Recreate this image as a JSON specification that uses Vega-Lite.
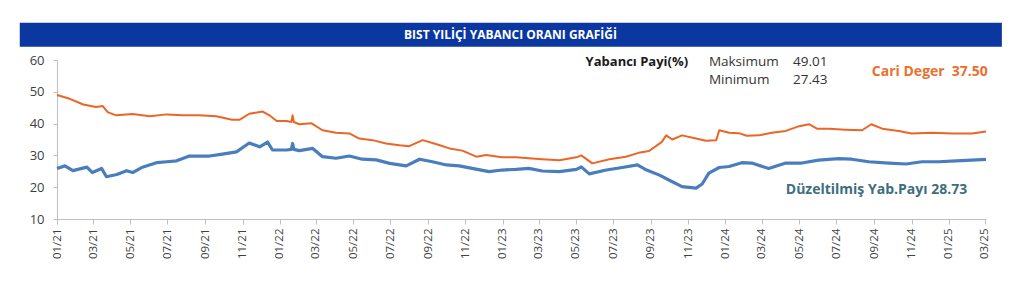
{
  "$schema": "https://vega.github.io/schema/vega-lite/v6.json",
  "autosize": {"type": "none"},
  "width": 929,
  "height": 159,
  "padding": {"left": 57, "top": 60, "right": 38, "bottom": 80},
  "background": "white",
  "config": {
    "font": "Open Sans",
    "view": {"stroke": null},
    "axis": {"labelOverlap": false, "labelFlush": false, "grid": false, "title": null, "domainColor": "#BFBFBF", "tickColor": "#BFBFBF", "labelColor": "#404040"},
    "axisY": {"labelFontSize": 13, "labelPadding": 9, "tickSize": 4, "labelOverlap": false, "labelBound": false},
    "axisX": {"labelFontSize": 11.5, "labelPadding": 4, "tickSize": 5, "labelAngle": -90, "labelOverlap": false}
  },
  "datasets": {"series": [
    {"date": "2021-01-01", "series": "Yabancı", "value": 49.0},
    {"date": "2021-01-22", "series": "Yabancı", "value": 47.8},
    {"date": "2021-02-13", "series": "Yabancı", "value": 46.0},
    {"date": "2021-03-06", "series": "Yabancı", "value": 45.2},
    {"date": "2021-03-17", "series": "Yabancı", "value": 45.5},
    {"date": "2021-03-25", "series": "Yabancı", "value": 43.6},
    {"date": "2021-04-08", "series": "Yabancı", "value": 42.6},
    {"date": "2021-05-05", "series": "Yabancı", "value": 43.0},
    {"date": "2021-06-02", "series": "Yabancı", "value": 42.3},
    {"date": "2021-06-30", "series": "Yabancı", "value": 42.9},
    {"date": "2021-07-26", "series": "Yabancı", "value": 42.6},
    {"date": "2021-08-22", "series": "Yabancı", "value": 42.6},
    {"date": "2021-09-19", "series": "Yabancı", "value": 42.3},
    {"date": "2021-10-15", "series": "Yabancı", "value": 41.2},
    {"date": "2021-10-27", "series": "Yabancı", "value": 41.2},
    {"date": "2021-11-12", "series": "Yabancı", "value": 43.1},
    {"date": "2021-12-04", "series": "Yabancı", "value": 43.8},
    {"date": "2021-12-15", "series": "Yabancı", "value": 42.6},
    {"date": "2021-12-27", "series": "Yabancı", "value": 40.8},
    {"date": "2022-01-12", "series": "Yabancı", "value": 40.8},
    {"date": "2022-01-20", "series": "Yabancı", "value": 40.5},
    {"date": "2022-01-22", "series": "Yabancı", "value": 42.6},
    {"date": "2022-01-24", "series": "Yabancı", "value": 40.5},
    {"date": "2022-02-02", "series": "Yabancı", "value": 39.8},
    {"date": "2022-02-22", "series": "Yabancı", "value": 40.1},
    {"date": "2022-03-12", "series": "Yabancı", "value": 37.9},
    {"date": "2022-04-03", "series": "Yabancı", "value": 37.1},
    {"date": "2022-04-25", "series": "Yabancı", "value": 36.9},
    {"date": "2022-05-11", "series": "Yabancı", "value": 35.3},
    {"date": "2022-06-02", "series": "Yabancı", "value": 34.8},
    {"date": "2022-06-24", "series": "Yabancı", "value": 33.75},
    {"date": "2022-07-16", "series": "Yabancı", "value": 33.2},
    {"date": "2022-08-01", "series": "Yabancı", "value": 32.9},
    {"date": "2022-08-23", "series": "Yabancı", "value": 34.8},
    {"date": "2022-09-15", "series": "Yabancı", "value": 33.5},
    {"date": "2022-10-06", "series": "Yabancı", "value": 32.2},
    {"date": "2022-10-27", "series": "Yabancı", "value": 31.5},
    {"date": "2022-11-19", "series": "Yabancı", "value": 29.6},
    {"date": "2022-12-05", "series": "Yabancı", "value": 30.1},
    {"date": "2022-12-31", "series": "Yabancı", "value": 29.4},
    {"date": "2023-01-23", "series": "Yabancı", "value": 29.4},
    {"date": "2023-02-13", "series": "Yabancı", "value": 29.1},
    {"date": "2023-03-07", "series": "Yabancı", "value": 28.8},
    {"date": "2023-04-04", "series": "Yabancı", "value": 28.5},
    {"date": "2023-05-02", "series": "Yabancı", "value": 29.4},
    {"date": "2023-05-10", "series": "Yabancı", "value": 30.0},
    {"date": "2023-05-28", "series": "Yabancı", "value": 27.5},
    {"date": "2023-06-25", "series": "Yabancı", "value": 28.8},
    {"date": "2023-07-22", "series": "Yabancı", "value": 29.6},
    {"date": "2023-08-12", "series": "Yabancı", "value": 30.8},
    {"date": "2023-08-29", "series": "Yabancı", "value": 31.4},
    {"date": "2023-09-19", "series": "Yabancı", "value": 34.25},
    {"date": "2023-09-26", "series": "Yabancı", "value": 36.3},
    {"date": "2023-10-06", "series": "Yabancı", "value": 35.0},
    {"date": "2023-10-22", "series": "Yabancı", "value": 36.3},
    {"date": "2023-11-14", "series": "Yabancı", "value": 35.3},
    {"date": "2023-11-30", "series": "Yabancı", "value": 34.6},
    {"date": "2023-12-17", "series": "Yabancı", "value": 34.8},
    {"date": "2023-12-22", "series": "Yabancı", "value": 37.9},
    {"date": "2024-01-07", "series": "Yabancı", "value": 37.1},
    {"date": "2024-01-23", "series": "Yabancı", "value": 37.0},
    {"date": "2024-02-05", "series": "Yabancı", "value": 36.2},
    {"date": "2024-02-25", "series": "Yabancı", "value": 36.3},
    {"date": "2024-03-17", "series": "Yabancı", "value": 37.1},
    {"date": "2024-04-09", "series": "Yabancı", "value": 37.7},
    {"date": "2024-05-01", "series": "Yabancı", "value": 39.2},
    {"date": "2024-05-17", "series": "Yabancı", "value": 39.8},
    {"date": "2024-05-30", "series": "Yabancı", "value": 38.4},
    {"date": "2024-06-19", "series": "Yabancı", "value": 38.4},
    {"date": "2024-07-16", "series": "Yabancı", "value": 38.1},
    {"date": "2024-08-12", "series": "Yabancı", "value": 37.9},
    {"date": "2024-08-27", "series": "Yabancı", "value": 39.8},
    {"date": "2024-09-14", "series": "Yabancı", "value": 38.4},
    {"date": "2024-10-11", "series": "Yabancı", "value": 37.7},
    {"date": "2024-11-01", "series": "Yabancı", "value": 36.9},
    {"date": "2024-12-04", "series": "Yabancı", "value": 37.1},
    {"date": "2025-01-07", "series": "Yabancı", "value": 36.9},
    {"date": "2025-02-08", "series": "Yabancı", "value": 36.9},
    {"date": "2025-03-03", "series": "Yabancı", "value": 37.5},
    {"date": "2021-01-01", "series": "Düzeltilmiş", "value": 25.9},
    {"date": "2021-01-14", "series": "Düzeltilmiş", "value": 26.7},
    {"date": "2021-01-27", "series": "Düzeltilmiş", "value": 25.2},
    {"date": "2021-02-19", "series": "Düzeltilmiş", "value": 26.3},
    {"date": "2021-02-28", "series": "Düzeltilmiş", "value": 24.6},
    {"date": "2021-03-15", "series": "Düzeltilmiş", "value": 25.9},
    {"date": "2021-03-23", "series": "Düzeltilmiş", "value": 23.3},
    {"date": "2021-04-09", "series": "Düzeltilmiş", "value": 24.0},
    {"date": "2021-04-25", "series": "Düzeltilmiş", "value": 25.2},
    {"date": "2021-05-05", "series": "Düzeltilmiş", "value": 24.6},
    {"date": "2021-05-21", "series": "Düzeltilmiş", "value": 26.3},
    {"date": "2021-06-13", "series": "Düzeltilmiş", "value": 27.7},
    {"date": "2021-06-30", "series": "Düzeltilmiş", "value": 28.0},
    {"date": "2021-07-16", "series": "Düzeltilmiş", "value": 28.3},
    {"date": "2021-08-06", "series": "Düzeltilmiş", "value": 29.8},
    {"date": "2021-08-22", "series": "Düzeltilmiş", "value": 29.8},
    {"date": "2021-09-08", "series": "Düzeltilmiş", "value": 29.8},
    {"date": "2021-09-29", "series": "Düzeltilmiş", "value": 30.4},
    {"date": "2021-10-22", "series": "Düzeltilmiş", "value": 31.1},
    {"date": "2021-11-12", "series": "Düzeltilmiş", "value": 33.9},
    {"date": "2021-11-29", "series": "Düzeltilmiş", "value": 32.7},
    {"date": "2021-12-12", "series": "Düzeltilmiş", "value": 34.2},
    {"date": "2021-12-20", "series": "Düzeltilmiş", "value": 31.7},
    {"date": "2022-01-12", "series": "Düzeltilmiş", "value": 31.7},
    {"date": "2022-01-20", "series": "Düzeltilmiş", "value": 31.9},
    {"date": "2022-01-22", "series": "Düzeltilmiş", "value": 33.75},
    {"date": "2022-01-24", "series": "Düzeltilmiş", "value": 31.9},
    {"date": "2022-02-02", "series": "Düzeltilmiş", "value": 31.5},
    {"date": "2022-02-24", "series": "Düzeltilmiş", "value": 32.2},
    {"date": "2022-03-12", "series": "Düzeltilmiş", "value": 29.6},
    {"date": "2022-04-03", "series": "Düzeltilmiş", "value": 29.1},
    {"date": "2022-04-25", "series": "Düzeltilmiş", "value": 29.8},
    {"date": "2022-05-16", "series": "Düzeltilmiş", "value": 28.8},
    {"date": "2022-06-08", "series": "Düzeltilmiş", "value": 28.6},
    {"date": "2022-06-30", "series": "Düzeltilmiş", "value": 27.5},
    {"date": "2022-07-27", "series": "Düzeltilmiş", "value": 26.7},
    {"date": "2022-08-18", "series": "Düzeltilmiş", "value": 28.8},
    {"date": "2022-09-08", "series": "Düzeltilmiş", "value": 28.0},
    {"date": "2022-10-01", "series": "Düzeltilmiş", "value": 27.0},
    {"date": "2022-10-22", "series": "Düzeltilmiş", "value": 26.7},
    {"date": "2022-11-12", "series": "Düzeltilmiş", "value": 25.9},
    {"date": "2022-12-10", "series": "Düzeltilmiş", "value": 24.9},
    {"date": "2022-12-31", "series": "Düzeltilmiş", "value": 25.4},
    {"date": "2023-01-23", "series": "Düzeltilmiş", "value": 25.6},
    {"date": "2023-02-13", "series": "Düzeltilmiş", "value": 25.9},
    {"date": "2023-03-07", "series": "Düzeltilmiş", "value": 25.1},
    {"date": "2023-04-04", "series": "Düzeltilmiş", "value": 24.9},
    {"date": "2023-05-02", "series": "Düzeltilmiş", "value": 25.6},
    {"date": "2023-05-10", "series": "Düzeltilmiş", "value": 26.4},
    {"date": "2023-05-23", "series": "Düzeltilmiş", "value": 24.2},
    {"date": "2023-06-20", "series": "Düzeltilmiş", "value": 25.4},
    {"date": "2023-07-16", "series": "Düzeltilmiş", "value": 26.2},
    {"date": "2023-08-10", "series": "Düzeltilmiş", "value": 27.0},
    {"date": "2023-08-25", "series": "Düzeltilmiş", "value": 25.4},
    {"date": "2023-09-15", "series": "Düzeltilmiş", "value": 23.8},
    {"date": "2023-10-02", "series": "Düzeltilmiş", "value": 22.1},
    {"date": "2023-10-22", "series": "Düzeltilmiş", "value": 20.2},
    {"date": "2023-11-14", "series": "Düzeltilmiş", "value": 19.7},
    {"date": "2023-11-24", "series": "Düzeltilmiş", "value": 21.0},
    {"date": "2023-12-05", "series": "Düzeltilmiş", "value": 24.4},
    {"date": "2023-12-22", "series": "Düzeltilmiş", "value": 26.2},
    {"date": "2024-01-07", "series": "Düzeltilmiş", "value": 26.5},
    {"date": "2024-01-28", "series": "Düzeltilmiş", "value": 27.7},
    {"date": "2024-02-13", "series": "Düzeltilmiş", "value": 27.6},
    {"date": "2024-03-12", "series": "Düzeltilmiş", "value": 25.9},
    {"date": "2024-04-09", "series": "Düzeltilmiş", "value": 27.6},
    {"date": "2024-05-05", "series": "Düzeltilmiş", "value": 27.6},
    {"date": "2024-06-02", "series": "Düzeltilmiş", "value": 28.5},
    {"date": "2024-07-05", "series": "Düzeltilmiş", "value": 29.0},
    {"date": "2024-07-26", "series": "Düzeltilmiş", "value": 28.8},
    {"date": "2024-08-23", "series": "Düzeltilmiş", "value": 28.0},
    {"date": "2024-09-25", "series": "Düzeltilmiş", "value": 27.6},
    {"date": "2024-10-23", "series": "Düzeltilmiş", "value": 27.3},
    {"date": "2024-11-18", "series": "Düzeltilmiş", "value": 28.0},
    {"date": "2024-12-16", "series": "Düzeltilmiş", "value": 28.0},
    {"date": "2025-01-13", "series": "Düzeltilmiş", "value": 28.3},
    {"date": "2025-02-08", "series": "Düzeltilmiş", "value": 28.5},
    {"date": "2025-03-03", "series": "Düzeltilmiş", "value": 28.73}
  ],
  "one": [{"k": 1}]},
  "data": {"name": "one"},
  "layer": [
    {
      "data": {"name": "series"},
      "transform": [{"filter": "datum.series === 'Yabancı'"}],
      "mark": {"type": "line", "color": "#EC6526", "strokeWidth": 2, "strokeJoin": "round"},
      "encoding": {
        "x": {
          "field": "date", "type": "temporal",
          "scale": {"type": "utc", "domain": [{"year": 2021, "month": 1, "date": 1, "utc": true}, {"year": 2025, "month": 3, "date": 3, "utc": true}]},
          "axis": {
            "labelExpr": "utcFormat(datum.value, '%m/%y')",
            "tickCount": {"interval": "month", "step": 2}
          }
        },
        "y": {
          "field": "value", "type": "quantitative",
          "scale": {"domain": [10, 60], "nice": false, "zero": false},
          "axis": {"values": [10, 20, 30, 40, 50, 60], "tickCount": 6}
        }
      }
    },
    {
      "data": {"name": "series"},
      "transform": [{"filter": "datum.series === 'Düzeltilmiş'"}],
      "mark": {"type": "line", "color": "#4A7DBE", "strokeWidth": 3.2, "strokeJoin": "round"},
      "encoding": {
        "x": {"field": "date", "type": "temporal"},
        "y": {"field": "value", "type": "quantitative"}
      }
    },
    {
      "mark": {"type": "rect", "color": "#0A37A0", "clip": false},
      "encoding": {
        "x": {"datum": {"year": 2020, "month": 11, "date": 1, "utc": true}, "type": "temporal"},
        "x2": {"datum": {"year": 2025, "month": 3, "date": 29, "utc": true}},
        "y": {"datum": 71.7, "type": "quantitative"},
        "y2": {"datum": 64.2}
      }
    },
    {
      "mark": {"type": "text", "text": "BIST YILİÇİ YABANCI ORANI GRAFİĞİ", "color": "white", "fontWeight": "bold", "fontSize": 12, "align": "center", "baseline": "middle"},
      "encoding": {
        "x": {"datum": {"year": 2023, "month": 1, "date": 14, "utc": true}, "type": "temporal"},
        "y": {"datum": 67.9, "type": "quantitative"}
      }
    },
    {
      "mark": {"type": "text", "text": "Yabancı Payi(%)", "color": "#1a1a1a", "fontWeight": "bold", "fontSize": 13, "align": "left", "baseline": "middle"},
      "encoding": {
        "x": {"datum": {"year": 2023, "month": 5, "date": 17, "utc": true}, "type": "temporal"},
        "y": {"datum": 59.4, "type": "quantitative"}
      }
    },
    {
      "mark": {"type": "text", "text": "Maksimum", "color": "#333333", "fontSize": 13.5, "align": "left", "baseline": "middle"},
      "encoding": {
        "x": {"datum": {"year": 2023, "month": 12, "date": 5, "utc": true}, "type": "temporal"},
        "y": {"datum": 59.4, "type": "quantitative"}
      }
    },
    {
      "mark": {"type": "text", "text": "Minimum", "color": "#333333", "fontSize": 13.5, "align": "left", "baseline": "middle"},
      "encoding": {
        "x": {"datum": {"year": 2023, "month": 12, "date": 5, "utc": true}, "type": "temporal"},
        "y": {"datum": 53.6, "type": "quantitative"}
      }
    },
    {
      "mark": {"type": "text", "text": "49.01", "color": "#333333", "fontSize": 13.5, "align": "left", "baseline": "middle"},
      "encoding": {
        "x": {"datum": {"year": 2024, "month": 4, "date": 21, "utc": true}, "type": "temporal"},
        "y": {"datum": 59.4, "type": "quantitative"}
      }
    },
    {
      "mark": {"type": "text", "text": "27.43", "color": "#333333", "fontSize": 13.5, "align": "left", "baseline": "middle"},
      "encoding": {
        "x": {"datum": {"year": 2024, "month": 4, "date": 21, "utc": true}, "type": "temporal"},
        "y": {"datum": 53.6, "type": "quantitative"}
      }
    },
    {
      "mark": {"type": "text", "text": "Cari Deger", "color": "#EA7030", "fontWeight": "bold", "fontSize": 14, "align": "left", "baseline": "middle"},
      "encoding": {
        "x": {"datum": {"year": 2024, "month": 8, "date": 28, "utc": true}, "type": "temporal"},
        "y": {"datum": 56.25, "type": "quantitative"}
      }
    },
    {
      "mark": {"type": "text", "text": "37.50", "color": "#EA7030", "fontWeight": "bold", "fontSize": 14, "align": "left", "baseline": "middle"},
      "encoding": {
        "x": {"datum": {"year": 2025, "month": 1, "date": 6, "utc": true}, "type": "temporal"},
        "y": {"datum": 56.25, "type": "quantitative"}
      }
    },
    {
      "mark": {"type": "text", "text": "Düzeltilmiş Yab.Payı 28.73", "color": "#3D6E80", "fontWeight": "bold", "fontSize": 14, "align": "left", "baseline": "middle"},
      "encoding": {
        "x": {"datum": {"year": 2024, "month": 4, "date": 9, "utc": true}, "type": "temporal"},
        "y": {"datum": 19.2, "type": "quantitative"}
      }
    }
  ]
}
